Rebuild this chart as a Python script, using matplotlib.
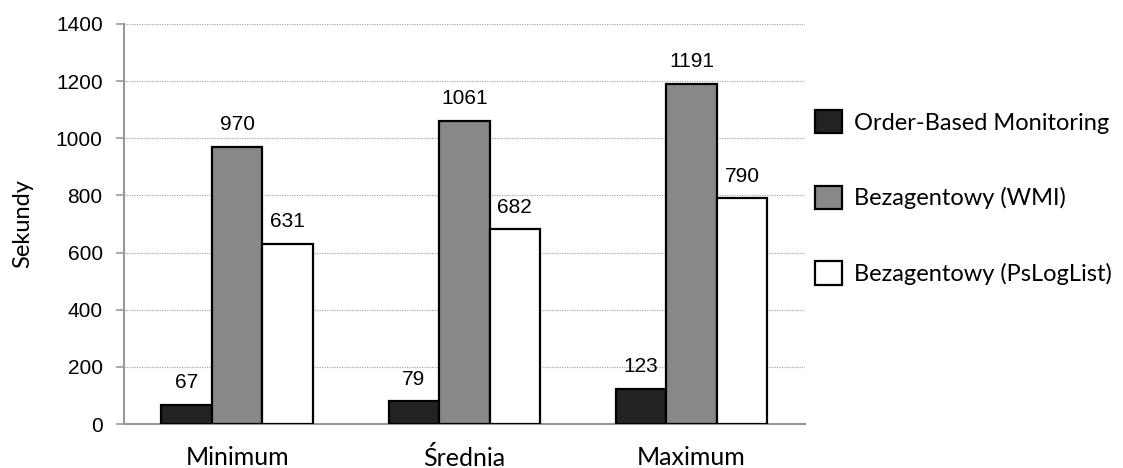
import numpy as np
import matplotlib.pyplot as plt

categories = ['Minimum', 'Średnia', 'Maximum']
series_names = ['Order-Based Monitoring', 'Bezagentowy (WMI)', 'Bezagentowy (PsLogList)']
order_based = [67, 79, 123]
wmi = [970, 1061, 1191]
psloglist = [631, 682, 790]
yticks = [0, 200, 400, 600, 800, 1000, 1200, 1400]

series = [order_based, wmi, psloglist]
colors = ['#222222', '#888888', '#ffffff']

fig = plt.figure(figsize=(11.23, 4.68), dpi=100)
ax = fig.add_axes([0.110, 0.094, 0.607, 0.855])

x = np.arange(len(categories))
width = 0.222
for i, (vals, name, col) in enumerate(zip(series, series_names, colors)):
    bars = ax.bar(x + (i - 1) * width, vals, width, color=col, edgecolor='black',
                  linewidth=1.6, label=name, zorder=3)
    for b, v in zip(bars, vals):
        ax.annotate(str(v), (b.get_x() + b.get_width() / 2, v), xytext=(0, 9),
                    textcoords='offset points', ha='center', va='bottom',
                    fontsize=15, family='Liberation Sans')

ax.set_xlim(-0.5, 2.5)
ax.set_ylim(0, 1400)
ax.set_yticks(yticks)
ax.set_yticklabels([str(t) for t in yticks], fontsize=15, family='Liberation Sans')
ax.set_xticks(x)
ax.set_xticklabels(categories, fontsize=18, family='Lato')
ax.tick_params(axis='x', length=0, pad=16)
ax.tick_params(axis='y', length=6, color='#999999', width=1.2, pad=9)
ax.yaxis.grid(True, color='#aaaaaa', linestyle=(0, (1, 1)), linewidth=0.9, zorder=0)
ax.set_axisbelow(True)
for s in ['top', 'right']:
    ax.spines[s].set_visible(False)
ax.spines['left'].set_color('#999999')
ax.spines['left'].set_linewidth(1.5)
ax.spines['bottom'].set_color('#999999')
ax.spines['bottom'].set_linewidth(1.5)
ax.set_ylabel('Sekundy', fontsize=17, family='Lato', labelpad=16)

handles, labels = ax.get_legend_handles_labels()
fig.legend(handles, labels, loc='upper left', bbox_to_anchor=(0.7257, 0.765),
           frameon=False, prop={'family': 'Lato', 'size': 17},
           handlelength=1.15, handleheight=1.15, handletextpad=0.5,
           labelspacing=2.2, borderpad=0, borderaxespad=0)

fig.savefig('out.png', dpi=100)
